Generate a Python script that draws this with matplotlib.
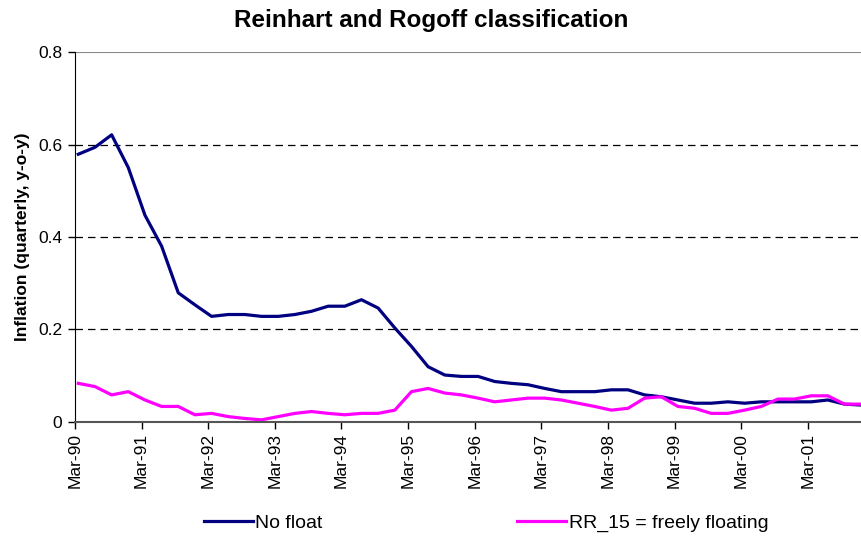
import matplotlib
matplotlib.use("Agg")
import matplotlib.pyplot as plt

plt.rcParams['font.family'] = ['Liberation Sans', 'DejaVu Sans']

# quarterly inflation, Mar-90 .. Dec-01
quarters = list(range(48))
no_float = [0.579, 0.594, 0.621, 0.550, 0.447, 0.380, 0.279, 0.253,
            0.228, 0.232, 0.232, 0.228, 0.228, 0.232, 0.239, 0.250,
            0.250, 0.264, 0.246, 0.203, 0.163, 0.119, 0.101, 0.098,
            0.098, 0.087, 0.083, 0.080, 0.072, 0.065, 0.065, 0.065,
            0.069, 0.069, 0.058, 0.054, 0.047, 0.040, 0.040, 0.043,
            0.040, 0.043, 0.043, 0.043, 0.043, 0.047, 0.038, 0.036]
free_float = [0.083, 0.076, 0.058, 0.065, 0.047, 0.033, 0.033, 0.015,
              0.018, 0.011, 0.007, 0.004, 0.011, 0.018, 0.022, 0.018,
              0.015, 0.018, 0.018, 0.025, 0.065, 0.072, 0.062, 0.058,
              0.051, 0.043, 0.047, 0.051, 0.051, 0.047, 0.040, 0.033,
              0.025, 0.029, 0.051, 0.054, 0.033, 0.029, 0.018, 0.018,
              0.025, 0.033, 0.049, 0.049, 0.056, 0.056, 0.038, 0.038]
tick_labels = ["Mar-90", "Mar-91", "Mar-92", "Mar-93", "Mar-94", "Mar-95",
               "Mar-96", "Mar-97", "Mar-98", "Mar-99", "Mar-00", "Mar-01"]

fig = plt.figure(figsize=(8.62, 5.43), dpi=100)
ax = fig.add_axes([0.087, 0.2234, 0.913, 0.6806])

ax.plot(quarters, no_float, color="#000080", lw=2.3, label="No float")
ax.plot(quarters, free_float, color="#FF00FF", lw=2.3, label="RR_15 = freely floating")

ax.set_xlim(-0.2, 47.05)
ax.set_ylim(0, 0.8)
ax.set_yticks([0, 0.2, 0.4, 0.6, 0.8])
ax.set_yticklabels(["0", "0.2", "0.4", "0.6", "0.8"], fontsize=12.5)
ax.set_xticks([4 * k - 0.2 for k in range(len(tick_labels))])
ax.set_xticklabels(tick_labels, rotation=90, fontsize=12.5)

# gridlines
for v in [0.2, 0.4, 0.6]:
    ax.axhline(v, color="black", lw=0.9, ls=(0, (6, 4)), zorder=0)
ax.axhline(0.8, color="#888888", lw=1.5, zorder=0)

for s in ["top", "right"]:
    ax.spines[s].set_visible(False)
ax.spines["left"].set_color("black")
ax.spines["bottom"].set_color("#555555")
ax.spines["bottom"].set_linewidth(1.5)
ax.tick_params(axis="y", direction="out", length=5, width=1, pad=4)
ax.tick_params(axis="x", direction="out", length=5, width=1, pad=3)

ax.set_ylabel("Inflation (quarterly, y-o-y)", fontsize=12.5, fontweight="bold", labelpad=6)
fig.text(0.5, 0.962, "Reinhart and Rogoff classification", ha="center", va="center",
         fontsize=17.5, fontweight="bold")

fig.legend(loc="center", bbox_to_anchor=(0.564, 0.036), ncol=2, frameon=False,
           fontsize=14, handlelength=2.5, columnspacing=10.0, handletextpad=0.15)

fig.savefig("out.png", dpi=100)
